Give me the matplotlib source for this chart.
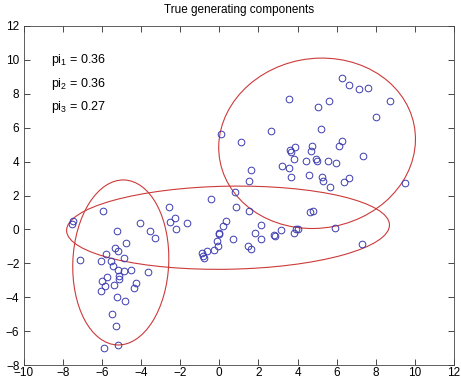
import numpy as np
import matplotlib.pyplot as plt
from matplotlib.patches import Ellipse

plt.rcParams['font.family'] = ['Liberation Sans', 'DejaVu Sans']
plt.rcParams['mathtext.fontset'] = 'custom'
plt.rcParams['mathtext.rm'] = 'Liberation Sans'
plt.rcParams['mathtext.it'] = 'Liberation Sans'
plt.rcParams['mathtext.default'] = 'regular'

# sample points
xs = [-5.93, -7.45, -7.51, -4.04, -5.20, -3.53, -3.26, -4.77, -5.30, -5.19,
      -5.78, -7.12, -6.02, -5.52, -4.89, -5.41, -5.17, -4.85, -4.51, -3.65,
      -5.74, -5.10, -5.13, -6.01, -5.82, -5.39, -4.27, -4.37, -6.02, -5.22,
      -4.79, -5.46, -5.27, -5.87, -5.16,
      -2.56, -2.25, -2.49, -2.21, -1.67, -0.44, 0.82, 0.87, 1.53, 0.34,
      0.17, 0.00, -0.03, 0.68, -0.12, -0.05, -0.29, -0.60, -0.88, -0.85,
      -0.80, 2.11, 1.85, 2.14, 2.82, 2.87, 3.14, 1.49, 1.64, 3.83,
      3.91, 4.03, 4.65, 4.80, 5.90, 7.30,
      0.07, 1.09, 2.66, 3.55, 3.60, 3.67, 3.85, 4.72, 4.71, 3.80,
      4.44, 4.96, 4.98, 5.57, 5.95, 3.20, 3.54, 1.63, 1.50, 3.69,
      4.58, 5.23, 5.29, 5.67, 6.39, 6.63, 6.28, 6.64, 7.13, 7.62,
      8.71, 5.63, 5.03, 8.03, 5.20, 6.27, 6.11, 7.35, 9.47]
ys = [1.11, 0.52, 0.30, 0.35, -0.11, -0.10, -0.53, -0.79, -1.11, -1.25,
      -1.46, -1.79, -1.85, -1.85, -1.71, -2.13, -2.41, -2.44, -2.38, -2.54,
      -2.81, -2.72, -2.90, -3.02, -3.31, -3.30, -3.16, -3.45, -3.61, -4.00,
      -4.24, -4.99, -5.70, -7.00, -6.83,
      1.30, 0.65, 0.44, 0.02, 0.36, 1.79, 2.18, 1.30, 1.09, 0.51,
      0.18, -0.20, -0.25, -0.55, -0.67, -1.00, -1.23, -1.28, -1.40, -1.57,
      -1.67, 0.27, -0.24, -0.54, -0.31, -0.38, -0.01, -1.00, -1.14, -0.22,
      0.04, 0.03, 1.01, 1.09, 0.11, -0.85,
      5.65, 5.14, 5.79, 7.70, 4.68, 4.58, 4.85, 4.93, 4.64, 4.14,
      4.04, 4.17, 4.04, 4.02, 3.90, 3.75, 3.65, 3.52, 2.87, 3.11,
      3.22, 3.10, 2.86, 2.51, 2.77, 3.01, 8.91, 8.50, 8.27, 8.32,
      7.60, 7.59, 7.20, 6.65, 5.91, 5.23, 4.95, 4.36, 2.75]

# mixture components: centre, axis lengths, orientation
centres = [(5.0, 5.08), (0.45, 0.1), (-5.03, -1.95)]
widths = [10.3, 16.5, 4.9]
heights = [9.8, 4.9, 9.74]
angles = [45, 1.2, -2]
weights = [0.36, 0.36, 0.27]

fig = plt.figure(figsize=(4.61, 3.79), dpi=100)
ax = fig.add_axes([0.051, 0.0369, 0.934, 0.8945])

ax.plot(xs, ys, 'o', mfc='none', mec='#3b3bb0', mew=0.7, ms=4.8, ls='none')

for c, w, h, a in zip(centres, widths, heights, angles):
    ax.add_patch(Ellipse(c, w, h, angle=a, fill=False, ec='#cc3a3a', lw=0.8))

for i, p in enumerate(weights):
    ax.text(-8.6, 10 - 1.4 * i, 'pi$_{%d}$ = %.2f' % (i + 1, p), fontsize=9,
            va='center', ha='left')

ax.set_xlim(-10, 12)
ax.set_ylim(-8, 12)
ax.set_xticks(np.arange(-10, 13, 2))
ax.set_yticks(np.arange(-8, 13, 2))
ax.tick_params(direction='in', length=4, width=0.5, top=True, right=True,
               labelsize=8.5, pad=3)
ax.tick_params(axis='x', pad=1.5)
for s in ax.spines.values():
    s.set_linewidth(0.6)
    s.set_color('#444444')
ax.set_title('True generating components', fontsize=8.5, pad=9)

fig.savefig('out.png', dpi=100)
